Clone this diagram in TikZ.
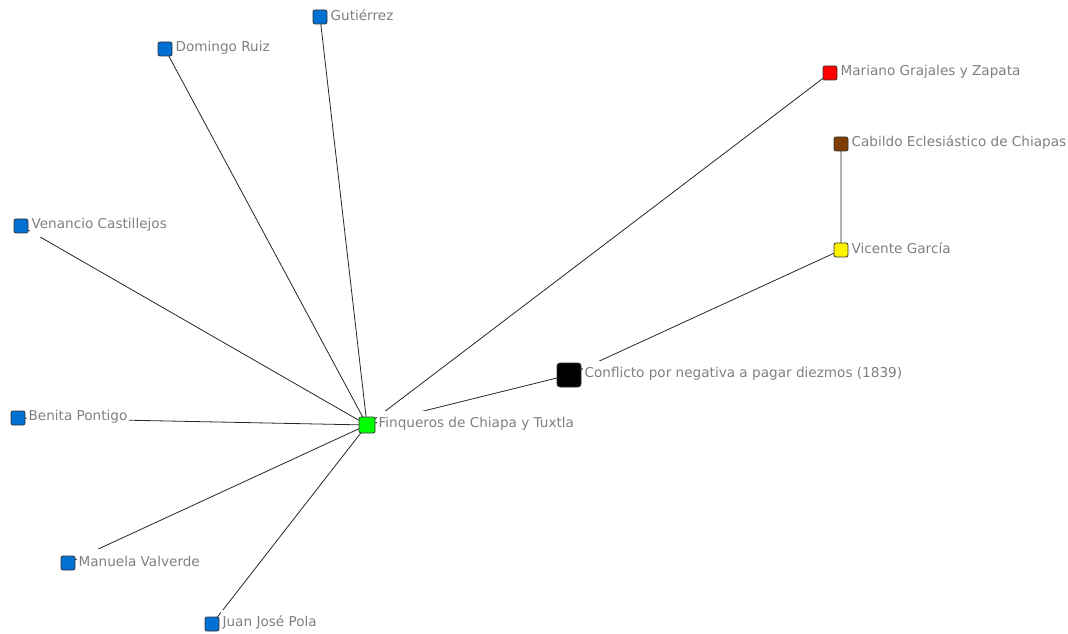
\documentclass[tikz,border=0pt]{standalone}
\usepackage{fontspec}
\setmainfont{DejaVu Sans}
\usetikzlibrary{positioning,backgrounds}
\definecolor{actorblue}{RGB}{0,112,210}
\definecolor{actorbrown}{RGB}{124,62,4}
\definecolor{labelgrey}{RGB}{128,128,128}
\begin{document}
\begin{tikzpicture}[x=1bp, y=-1bp, font=\fontsize{13.6bp}{16bp}\selectfont,
	sq/.style={draw=black!80, rounded corners=2bp, minimum size=14bp, inner sep=0pt, line width=0.8bp},
	lbl/.style={fill=white, text=labelgrey, inner xsep=1.5bp, inner ysep=0pt, minimum height=25bp, right=1.5bp of #1, yshift=1.5bp},
	edge/.style={draw=black!85, line width=0.8bp}]
	\useasboundingbox (0,0) rectangle (1068,634);
	% actors linked to the finqueros
	\foreach \n/\x/\y/\t in {gut/320/17/Gutiérrez, dom/165/49/Domingo Ruiz, ven/21/226/Venancio Castillejos,
		ben/18/418/Benita Pontigo, man/68/563/Manuela Valverde, jua/212/624/Juan José Pola}{
		\node[sq, fill=actorblue] (\n) at (\x,\y) {};
		\node[lbl=\n] (\n-l) {\t};
	}
	\node[sq, fill=green, minimum size=16bp] (fin) at (367,425) {};
	\node[lbl=fin] (fin-l) {Finqueros de Chiapa y Tuxtla};
	\node[sq, fill=black, minimum size=24bp, rounded corners=3bp] (conf) at (569,375) {};
	\node[lbl=conf] (conf-l) {Conflicto por negativa a pagar diezmos (1839)};
	\node[sq, fill=red] (mar) at (830,73) {};
	\node[lbl=mar] (mar-l) {Mariano Grajales y Zapata};
	\node[sq, fill=actorbrown] (cab) at (841,144) {};
	\node[lbl=cab] (cab-l) {Cabildo Eclesiástico de Chiapas};
	\node[sq, fill=yellow] (vic) at (841,250) {};
	\node[lbl=vic] (vic-l) {Vicente García};
	% ties
	\begin{scope}[on background layer]
		\foreach \n in {gut,dom,ven,ben,man,jua,mar,conf}{
			\draw[edge] (fin.center)--(\n.center);
		}
		\draw[edge] (conf.center)--(vic.center)--(cab.center);
	\end{scope}
\end{tikzpicture}
\end{document}
